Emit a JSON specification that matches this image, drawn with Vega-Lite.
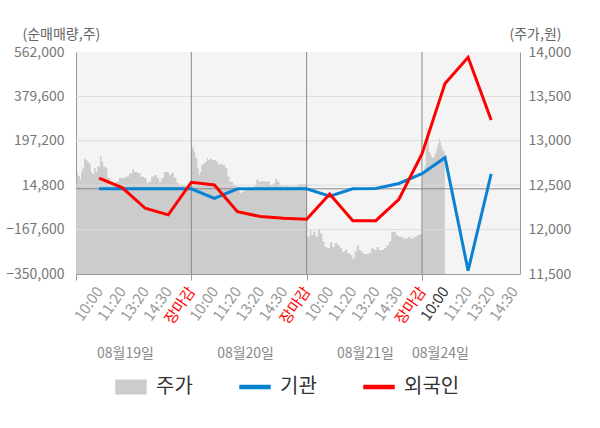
{
  "$schema": "https://vega.github.io/schema/vega-lite/v6.json",
  "width": 444,
  "height": 222,
  "autosize": {"type": "none"},
  "padding": {"left": 76, "top": 52, "right": 80, "bottom": 154},
  "datasets": {
    "price": [
      {"t": 0.00, "p": 12480}, {"t": 0.03, "p": 12640}, {"t": 0.09, "p": 12600}, {"t": 0.17, "p": 12560},
      {"t": 0.22, "p": 12650}, {"t": 0.27, "p": 12690}, {"t": 0.35, "p": 12795}, {"t": 0.43, "p": 12785},
      {"t": 0.49, "p": 12760}, {"t": 0.56, "p": 12740}, {"t": 0.64, "p": 12650}, {"t": 0.71, "p": 12625},
      {"t": 0.78, "p": 12695}, {"t": 0.85, "p": 12650}, {"t": 0.92, "p": 12710}, {"t": 1.04, "p": 12830},
      {"t": 1.10, "p": 12765}, {"t": 1.18, "p": 12710}, {"t": 1.29, "p": 12690}, {"t": 1.36, "p": 12580},
      {"t": 1.47, "p": 12515}, {"t": 1.57, "p": 12500}, {"t": 1.72, "p": 12540}, {"t": 1.86, "p": 12580},
      {"t": 2.01, "p": 12580}, {"t": 2.15, "p": 12595}, {"t": 2.30, "p": 12635}, {"t": 2.44, "p": 12680},
      {"t": 2.51, "p": 12650}, {"t": 2.66, "p": 12635}, {"t": 2.80, "p": 12595}, {"t": 2.95, "p": 12580},
      {"t": 3.06, "p": 12525}, {"t": 3.16, "p": 12540}, {"t": 3.26, "p": 12595}, {"t": 3.38, "p": 12615},
      {"t": 3.50, "p": 12580}, {"t": 3.60, "p": 12540}, {"t": 3.70, "p": 12580}, {"t": 3.81, "p": 12650},
      {"t": 3.93, "p": 12645}, {"t": 4.03, "p": 12615}, {"t": 4.13, "p": 12635}, {"t": 4.25, "p": 12585},
      {"t": 4.36, "p": 12525}, {"t": 4.46, "p": 12495}, {"t": 4.68, "p": 12485}, {"t": 4.96, "p": 12485},
      {"t": 5.00, "p": 12915}, {"t": 5.07, "p": 12935}, {"t": 5.11, "p": 12875}, {"t": 5.17, "p": 12805},
      {"t": 5.26, "p": 12690}, {"t": 5.32, "p": 12615}, {"t": 5.37, "p": 12650}, {"t": 5.43, "p": 12730},
      {"t": 5.51, "p": 12745}, {"t": 5.60, "p": 12765}, {"t": 5.67, "p": 12805}, {"t": 5.72, "p": 12785},
      {"t": 5.80, "p": 12795}, {"t": 5.90, "p": 12785}, {"t": 5.98, "p": 12785}, {"t": 6.08, "p": 12765},
      {"t": 6.16, "p": 12730}, {"t": 6.23, "p": 12745}, {"t": 6.30, "p": 12730}, {"t": 6.42, "p": 12730},
      {"t": 6.47, "p": 12690}, {"t": 6.56, "p": 12595}, {"t": 6.66, "p": 12540}, {"t": 6.81, "p": 12500},
      {"t": 6.95, "p": 12470}, {"t": 7.10, "p": 12410}, {"t": 7.17, "p": 12425}, {"t": 7.31, "p": 12445},
      {"t": 7.46, "p": 12445}, {"t": 7.60, "p": 12445}, {"t": 7.75, "p": 12500}, {"t": 7.82, "p": 12560},
      {"t": 7.92, "p": 12540}, {"t": 8.03, "p": 12545}, {"t": 8.18, "p": 12540}, {"t": 8.32, "p": 12545},
      {"t": 8.40, "p": 12500}, {"t": 8.54, "p": 12520}, {"t": 8.64, "p": 12570}, {"t": 8.73, "p": 12540},
      {"t": 8.83, "p": 12495}, {"t": 8.97, "p": 12485}, {"t": 9.07, "p": 12500}, {"t": 9.19, "p": 12485},
      {"t": 9.41, "p": 12485}, {"t": 9.62, "p": 12510}, {"t": 9.84, "p": 12510}, {"t": 9.98, "p": 12510},
      {"t": 10.02, "p": 11920}, {"t": 10.06, "p": 11920}, {"t": 10.14, "p": 11995}, {"t": 10.20, "p": 11940},
      {"t": 10.29, "p": 11975}, {"t": 10.39, "p": 11920}, {"t": 10.49, "p": 12005}, {"t": 10.58, "p": 11960},
      {"t": 10.68, "p": 11865}, {"t": 10.78, "p": 11805}, {"t": 10.89, "p": 11790}, {"t": 11.01, "p": 11855},
      {"t": 11.11, "p": 11805}, {"t": 11.21, "p": 11845}, {"t": 11.33, "p": 11825}, {"t": 11.44, "p": 11790},
      {"t": 11.54, "p": 11750}, {"t": 11.65, "p": 11770}, {"t": 11.76, "p": 11735}, {"t": 11.88, "p": 11715},
      {"t": 11.98, "p": 11675}, {"t": 12.08, "p": 11750}, {"t": 12.17, "p": 11825}, {"t": 12.27, "p": 11770},
      {"t": 12.37, "p": 11740}, {"t": 12.48, "p": 11725}, {"t": 12.60, "p": 11725}, {"t": 12.70, "p": 11740},
      {"t": 12.80, "p": 11790}, {"t": 12.92, "p": 11770}, {"t": 13.03, "p": 11805}, {"t": 13.13, "p": 11770},
      {"t": 13.23, "p": 11770}, {"t": 13.35, "p": 11790}, {"t": 13.47, "p": 11825}, {"t": 13.57, "p": 11865},
      {"t": 13.67, "p": 11975}, {"t": 13.75, "p": 11975}, {"t": 13.86, "p": 11940}, {"t": 13.96, "p": 11920},
      {"t": 14.07, "p": 11920}, {"t": 14.18, "p": 11900}, {"t": 14.29, "p": 11900}, {"t": 14.39, "p": 11915},
      {"t": 14.51, "p": 11900}, {"t": 14.65, "p": 11920}, {"t": 14.79, "p": 11940}, {"t": 14.94, "p": 11950},
      {"t": 14.99, "p": 11950}, {"t": 15.02, "p": 12635}, {"t": 15.10, "p": 12710}, {"t": 15.16, "p": 12935},
      {"t": 15.20, "p": 13140}, {"t": 15.24, "p": 13065}, {"t": 15.30, "p": 12875}, {"t": 15.36, "p": 12840},
      {"t": 15.42, "p": 12805}, {"t": 15.49, "p": 12820}, {"t": 15.56, "p": 12860}, {"t": 15.63, "p": 12915},
      {"t": 15.68, "p": 12970}, {"t": 15.73, "p": 13030}, {"t": 15.78, "p": 12990}, {"t": 15.82, "p": 12935},
      {"t": 15.88, "p": 12890}, {"t": 15.96, "p": 12875}, {"t": 15.99, "p": 12875}
    ],
    "flow": [
      {"t": 1, "s": "기관", "v": 0}, {"t": 2, "s": "기관", "v": 0}, {"t": 3, "s": "기관", "v": 0},
      {"t": 4, "s": "기관", "v": 0}, {"t": 5, "s": "기관", "v": 0}, {"t": 6, "s": "기관", "v": -39000},
      {"t": 7, "s": "기관", "v": 0}, {"t": 8, "s": "기관", "v": 0}, {"t": 9, "s": "기관", "v": 0},
      {"t": 10, "s": "기관", "v": 0}, {"t": 11, "s": "기관", "v": -30000}, {"t": 12, "s": "기관", "v": 0},
      {"t": 13, "s": "기관", "v": 1000}, {"t": 14, "s": "기관", "v": 22000}, {"t": 15, "s": "기관", "v": 62000},
      {"t": 16, "s": "기관", "v": 128000}, {"t": 17, "s": "기관", "v": -336000}, {"t": 18, "s": "기관", "v": 61000},
      {"t": 1, "s": "외국인", "v": 44000}, {"t": 2, "s": "외국인", "v": 5000}, {"t": 3, "s": "외국인", "v": -80000},
      {"t": 4, "s": "외국인", "v": -107000}, {"t": 5, "s": "외국인", "v": 27000}, {"t": 6, "s": "외국인", "v": 16000},
      {"t": 7, "s": "외국인", "v": -94000}, {"t": 8, "s": "외국인", "v": -114000}, {"t": 9, "s": "외국인", "v": -121000},
      {"t": 10, "s": "외국인", "v": -125000}, {"t": 11, "s": "외국인", "v": -21000}, {"t": 12, "s": "외국인", "v": -131000},
      {"t": 13, "s": "외국인", "v": -131000}, {"t": 14, "s": "외국인", "v": -43000}, {"t": 15, "s": "외국인", "v": 143000},
      {"t": 16, "s": "외국인", "v": 433000}, {"t": 17, "s": "외국인", "v": 540000}, {"t": 18, "s": "외국인", "v": 283000}
    ],
    "grid": [{"v": 379600}, {"v": 197200}, {"v": 14800}, {"v": -167600}],
    "zero": [{"v": 0}],
    "days": [{"t": 5}, {"t": 10}, {"t": 15}]
  },
  "layer": [
    {
      "data": {"name": "price"},
      "mark": {"type": "area", "color": "#cccccc", "interpolate": "step-after"},
      "encoding": {
        "x": {
          "field": "t", "type": "quantitative",
          "scale": {"domain": [0, 19.25], "nice": false, "zero": false},
          "axis": {
            "values": [0, 1, 2, 3, 4, 5, 6, 7, 8, 9, 10, 11, 12, 13, 14, 15, 16, 17, 18, 19],
            "labelExpr": "datum.value == 0 ? '' : datum.value % 5 == 1 ? '10:00' : datum.value % 5 == 2 ? '11:20' : datum.value % 5 == 3 ? '13:20' : datum.value % 5 == 4 ? '14:30' : '장마감'",
            "labelAngle": -55, "labelAlign": "right", "labelBaseline": "middle",
            "labelColor": {"condition": [{"test": "datum.value % 5 == 0", "value": "#ff0000"}, {"test": "datum.value == 16", "value": "#333333"}], "value": "#999999"},
            "tickColor": {"condition": {"test": "datum.value % 5 == 0", "value": "#999999"}, "value": "transparent"},
            "tickSize": 6, "labelPadding": 8, "labelFontSize": 15, "labelFlush": false, "labelOverlap": false,
            "grid": false, "domainColor": "#999999", "title": null
          }
        },
        "y": {
          "field": "p", "type": "quantitative",
          "scale": {"domain": [11500, 14000], "nice": false, "zero": false},
          "axis": {
            "orient": "right", "values": [14000, 13500, 13000, 12500, 12000, 11500], "format": ",.0f",
            "grid": false, "ticks": false, "domainColor": "#999999", "labelPadding": 8,
            "labelColor": "#777777", "labelFontSize": 14,
            "title": "(주가,원)", "titleAngle": 0, "titleAlign": "left", "titleBaseline": "middle",
            "titleX": -11, "titleY": -18, "titleFontWeight": "normal", "titleColor": "#666666", "titleFontSize": 14
          }
        },
        "y2": {"datum": 11500},
        "color": {
          "datum": "주가",
          "scale": {"domain": ["주가", "기관", "외국인"], "range": ["#cccccc", "#0a82d2", "#ff0000"]},
          "legend": {
            "orient": "none", "legendX": 39, "legendY": 319, "direction": "horizontal", "title": null,
            "symbolSize": 900, "labelFontSize": 20, "labelColor": "#333333", "labelOffset": 9, "columnPadding": 44,
            "encode": {"symbols": {"update": {
              "shape": {"signal": "datum.value === '주가' ? 'M-1,-0.45H1V0.45H-1Z' : 'M-1,-0.1H1V0.1H-1Z'"},
              "fill": {"scale": "color", "field": "value"},
              "stroke": {"value": "transparent"},
              "opacity": {"value": 1}
            }}}
          }
        }
      }
    },
    {
      "data": {"name": "grid"},
      "mark": {"type": "rule", "color": "#dddddd", "strokeWidth": 1},
      "encoding": {
        "y": {"field": "v", "type": "quantitative", "scale": {"domain": [-350000, 562000], "nice": false, "zero": false}, "axis": null}
      }
    },
    {
      "data": {"name": "zero"},
      "mark": {"type": "rule", "color": "#888888", "strokeWidth": 1},
      "encoding": {
        "y": {"field": "v", "type": "quantitative", "scale": {"domain": [-350000, 562000], "nice": false, "zero": false}, "axis": null}
      }
    },
    {
      "data": {"name": "days"},
      "mark": {"type": "rule", "color": "#888888", "strokeWidth": 1},
      "encoding": {
        "x": {
          "field": "t", "type": "quantitative",
          "scale": {"domain": [0, 19.25], "nice": false, "zero": false},
          "axis": {
            "orient": "bottom",
            "values": [2.12, 7.33, 12.53, 15.78],
            "labelExpr": "datum.value < 5 ? '08월19일' : datum.value < 10 ? '08월20일' : datum.value < 15 ? '08월21일' : '08월24일'",
            "labelAngle": 0, "labelAlign": "center", "labelBaseline": "middle",
            "ticks": false, "tickSize": 0, "domain": false, "grid": false,
            "labelPadding": 79, "labelColor": "#888888", "labelFontSize": 14, "labelFlush": false, "labelOverlap": false,
            "title": null
          }
        }
      }
    },
    {
      "data": {"name": "flow"},
      "mark": {"type": "line", "strokeWidth": 3},
      "encoding": {
        "x": {"field": "t", "type": "quantitative", "scale": {"domain": [0, 19.25], "nice": false, "zero": false}, "axis": null},
        "y": {
          "field": "v", "type": "quantitative",
          "scale": {"domain": [-350000, 562000], "nice": false, "zero": false},
          "axis": {
            "values": [562000, 379600, 197200, 14800, -167600, -350000], "format": ",.0f",
            "grid": false, "ticks": false, "domainColor": "#999999", "labelPadding": 12,
            "labelColor": "#777777", "labelFontSize": 14,
            "title": "(순매매량,주)", "titleAngle": 0, "titleAlign": "left", "titleBaseline": "middle",
            "titleX": -54, "titleY": -18, "titleFontWeight": "normal", "titleColor": "#666666", "titleFontSize": 14
          }
        },
        "color": {
          "field": "s", "type": "nominal",
          "scale": {"domain": ["주가", "기관", "외국인"], "range": ["#cccccc", "#0a82d2", "#ff0000"]},
          "legend": {
            "orient": "none", "legendX": 39, "legendY": 319, "direction": "horizontal", "title": null,
            "symbolSize": 900, "labelFontSize": 20, "labelColor": "#333333", "labelOffset": 9, "columnPadding": 44,
            "encode": {"symbols": {"update": {
              "shape": {"signal": "datum.value === '주가' ? 'M-1,-0.45H1V0.45H-1Z' : 'M-1,-0.1H1V0.1H-1Z'"},
              "fill": {"scale": "color", "field": "value"},
              "stroke": {"value": "transparent"},
              "opacity": {"value": 1}
            }}}
          }
        }
      }
    }
  ],
  "resolve": {"scale": {"y": "independent"}, "axis": {"x": "independent", "y": "independent"}},
  "config": {
    "font": "Noto Sans CJK KR",
    "view": {"fill": "#f4f4f4", "stroke": null},
    "axis": {"labelFont": "Noto Sans CJK KR", "titleFont": "Noto Sans CJK KR"},
    "legend": {"labelFont": "Noto Sans CJK KR"}
  }
}
